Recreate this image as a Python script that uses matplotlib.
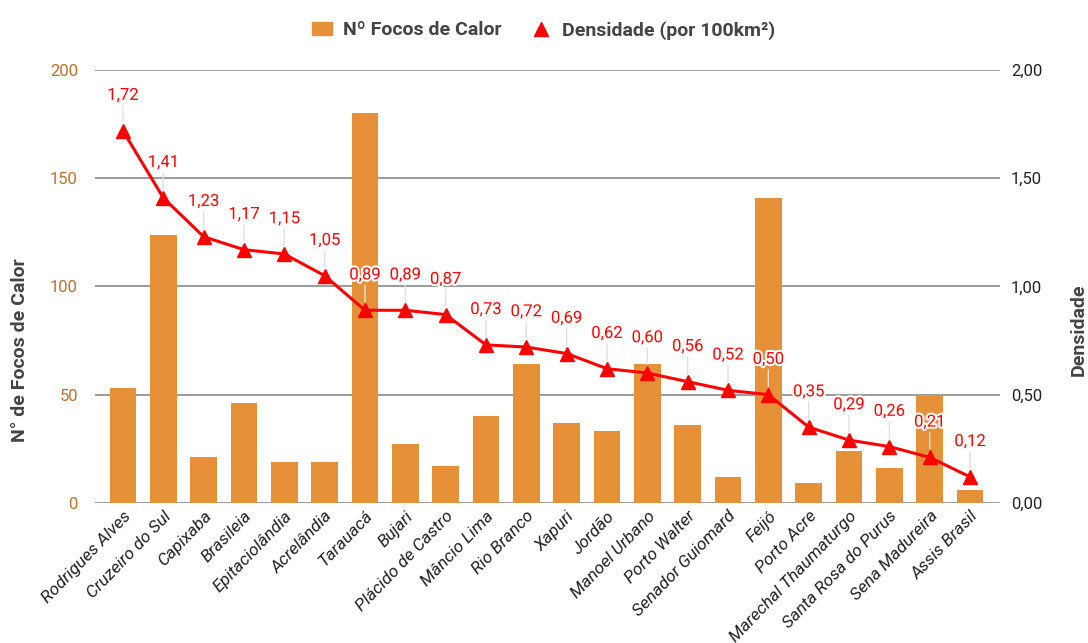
import matplotlib.pyplot as plt
import matplotlib.patheffects as pe
from matplotlib.lines import Line2D
from matplotlib.patches import Patch
import numpy as np

plt.rcParams['font.family'] = ['Roboto', 'DejaVu Sans']

municipios = ['Rodrigues Alves', 'Cruzeiro do Sul', 'Capixaba', 'Brasileia', 'Epitaciolândia',
              'Acrelândia', 'Tarauacá', 'Bujari', 'Plácido de Castro', 'Mâncio Lima',
              'Rio Branco', 'Xapuri', 'Jordão', 'Manoel Urbano', 'Porto Walter',
              'Senador Guiomard', 'Feijó', 'Porto Acre', 'Marechal Thaumaturgo',
              'Santa Rosa do Purus', 'Sena Madureira', 'Assis Brasil']
focos = [53, 124, 21, 46, 19, 19, 180, 27, 17, 40, 64, 37, 33, 64, 36, 12, 141, 9, 24, 16, 50, 6]
densidade = [1.72, 1.41, 1.23, 1.17, 1.15, 1.05, 0.89, 0.89, 0.87, 0.73, 0.72, 0.69,
             0.62, 0.60, 0.56, 0.52, 0.50, 0.35, 0.29, 0.26, 0.21, 0.12]

bar_color = '#e69138'
x = np.arange(len(municipios))

fig = plt.figure(figsize=(10.88, 6.43), dpi=100)
ax = fig.add_axes([0.087, 0.218, 0.832, 0.673])
ax2 = ax.twinx()

# barras (eixo esquerdo)
ax.bar(x, focos, width=0.66, color=bar_color, zorder=2)
ax.set_ylim(0, 200)
ax.set_yticks([0, 50, 100, 150, 200])
ax.set_xlim(-0.7, len(x) - 0.26)
ax.grid(axis='y', color='#8a8a8a', linewidth=1.2, zorder=0)
ax.set_axisbelow(True)
for s in list(ax.spines.values()) + list(ax2.spines.values()):
    s.set_visible(False)
ax.tick_params(axis='y', length=0, colors='#c0702a', labelsize=12, pad=12)
ax.tick_params(axis='x', length=0, labelsize=12.5, pad=4)
ax.set_xticks(x)
ax.set_xticklabels(municipios, rotation=46, ha='right', rotation_mode='anchor',
                   style='italic', color='#222222')

# linha de densidade (eixo direito)
ax2.plot(x, densidade, color='#ff0000', linewidth=2.2, marker='^', markersize=10, zorder=3)
ax2.set_ylim(0, 2)
ax2.set_yticks([0, 0.5, 1, 1.5, 2])
ax2.set_yticklabels(['0,00', '0,50', '1,00', '1,50', '2,00'])
ax2.tick_params(axis='y', length=0, colors='#222222', labelsize=12, pad=8)

for xi, d in zip(x, densidade):
    ax2.annotate(f'{d:.2f}'.replace('.', ','), xy=(xi, d), xytext=(0, 20),
                 textcoords='offset points', ha='center', va='bottom', fontsize=12,
                 color='#ff0000', zorder=4,
                 path_effects=[pe.withStroke(linewidth=3, foreground='white')],
                 arrowprops=dict(arrowstyle='-', color='#e0e0e0', lw=1, shrinkA=0, shrinkB=6))

# títulos dos eixos
fig.text(20 / 1088, 1 - 350 / 643, 'N° de Focos de Calor', rotation=90, ha='center', va='center',
         fontsize=14, fontweight='bold', color='#444444')
fig.text(1079 / 1088, 1 - 330 / 643, 'Densidade', rotation=90, ha='center', va='center',
         fontsize=14, fontweight='bold', color='#444444')

handles = [Patch(color=bar_color),
           Line2D([], [], color='#ff0000', marker='^', linestyle='none', markersize=10)]
fig.legend(handles, ['Nº Focos de Calor', 'Densidade (por 100km²)'], loc='upper center',
           bbox_to_anchor=(0.5, 0.995), ncol=2, frameon=False,
           prop={'size': 14, 'weight': 'bold'}, labelcolor='#444444', handlelength=1,
           handletextpad=0.6, columnspacing=1.5)

fig.savefig('out.png', dpi=100)
